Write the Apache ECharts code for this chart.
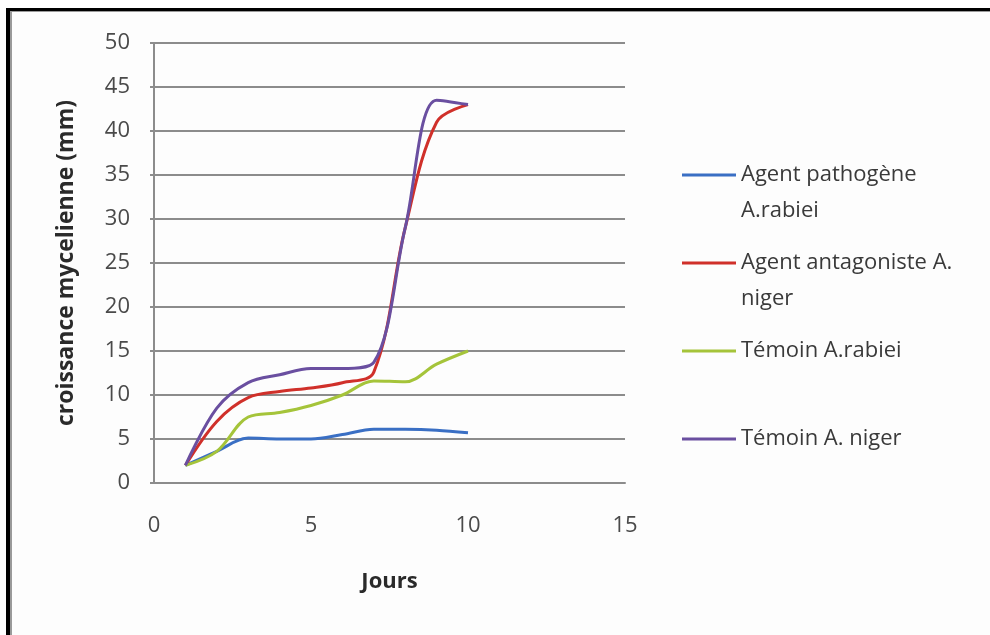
<!DOCTYPE html>
<html>
<head>
<meta charset="utf-8">
<script src="https://cdn.jsdelivr.net/npm/echarts@6/dist/echarts.min.js"></script>
<style>
  html, body { margin: 0; padding: 0; background: #ffffff; }
  #wrap { position: relative; width: 990px; height: 635px; overflow: hidden; background: #ffffff; }
  #frame {
    position: absolute; left: 6px; top: 8px; width: 1000px; height: 700px;
    border-left: 4px solid #000; border-top: 3px solid #000;
    box-shadow: inset 2px 1px 0 #9a9a9a;
    background: #fdfdfd;
  }
  #chart { position: absolute; left: 0; top: 0; width: 990px; height: 635px; }
</style>
</head>
<body>
<div id="wrap">
  <div id="frame"></div>
  <div id="chart"></div>
</div>
<script>
// Days of measurement
const days = [1, 2, 3, 4, 5, 6, 7, 8, 9, 10];

// Mycelial growth (mm) per treatment
const pathogeneRabiei = [2, 3.6, 5.1, 5.0, 5.0, 5.5, 6.1, 6.1, 6.0, 5.7];
const antagonisteNiger = [2, 7.0, 9.7, 10.4, 10.8, 11.4, 12.6, 29, 41, 43];
const temoinRabiei = [2, 3.6, 7.5, 8.0, 8.8, 10.0, 11.6, 11.5, 13.5, 15];
const temoinNiger = [2, 8.5, 11.4, 12.3, 13.0, 13.0, 13.7, 29, 43.5, 43];

const seriesNames = [
  'Agent pathogène A.rabiei',
  'Agent antagoniste A. niger',
  'Témoin A.rabiei',
  'Témoin A. niger'
];
// Wrapped legend text (first line sits beside the swatch)
const legendLines = [
  ['Agent pathogène', 'A.rabiei'],
  ['Agent antagoniste A.', 'niger'],
  ['Témoin A.rabiei'],
  ['Témoin A. niger']
];
const seriesColors = ['#3a6fc4', '#d0302a', '#a5c43a', '#6a4fa0'];
const seriesValues = [pathogeneRabiei, antagonisteNiger, temoinRabiei, temoinNiger];

const font = '"Open Sans", "Noto Sans", sans-serif';

function pairs(values) {
  return days.map((d, i) => [d, values[i]]);
}

// One legend block per series so each entry sits at its own height.
// Two-line entries get a blank line on top so the swatch lines up with line one.
const legendTops = [121, 209, 333, 421];
const legends = seriesNames.map((name, i) => {
  const lines = legendLines[i];
  const text = lines.length > 1 ? ' \n' + lines.join('\n') : lines[0];
  return {
    data: [name],
    left: 682,
    top: legendTops[i],
    orient: 'vertical',
    padding: 0,
    icon: 'rect',
    itemWidth: 54,
    itemHeight: 3,
    selectedMode: false,
    formatter: () => text,
    textStyle: {
      fontFamily: font,
      fontSize: 22,
      color: '#3a3a3a',
      lineHeight: 36
    }
  };
});

const chart = echarts.init(document.getElementById('chart'), null, { renderer: 'canvas' });
chart.setOption({
  animation: false,
  backgroundColor: 'transparent',
  legend: legends,
  grid: { left: 154, right: 365, top: 43, bottom: 152, containLabel: false },
  xAxis: {
    type: 'value',
    min: 0, max: 15, interval: 5,
    name: 'Jours',
    nameLocation: 'middle',
    nameGap: 88,
    nameTextStyle: { fontFamily: font, fontSize: 22, fontWeight: 'bold', color: '#2a2a2a' },
    axisLine: { show: true, lineStyle: { color: '#8c8c8c', width: 2 } },
    axisTick: { show: false },
    splitLine: { show: false },
    axisLabel: { fontFamily: font, fontSize: 22, color: '#4a4a4a', margin: 32 }
  },
  yAxis: {
    type: 'value',
    min: 0, max: 50, interval: 5,
    name: 'croissance mycelienne (mm)',
    nameLocation: 'middle',
    nameGap: 76,
    nameTextStyle: { fontFamily: font, fontSize: 23, fontWeight: 'bold', color: '#2a2a2a' },
    axisLine: { show: true, lineStyle: { color: '#8c8c8c', width: 2 } },
    axisTick: { show: true, length: 4, lineStyle: { color: '#8c8c8c', width: 2 } },
    splitLine: { show: true, lineStyle: { color: '#8c8c8c', width: 2 } },
    axisLabel: { fontFamily: font, fontSize: 22, color: '#4a4a4a', margin: 24 }
  },
  series: seriesNames.map((name, i) => ({
    name: name,
    type: 'line',
    data: pairs(seriesValues[i]),
    smooth: 0.35,
    symbol: 'none',
    color: seriesColors[i],
    lineStyle: { width: 3, color: seriesColors[i] },
    z: 2 + i
  }))
});
</script>
</body>
</html>
